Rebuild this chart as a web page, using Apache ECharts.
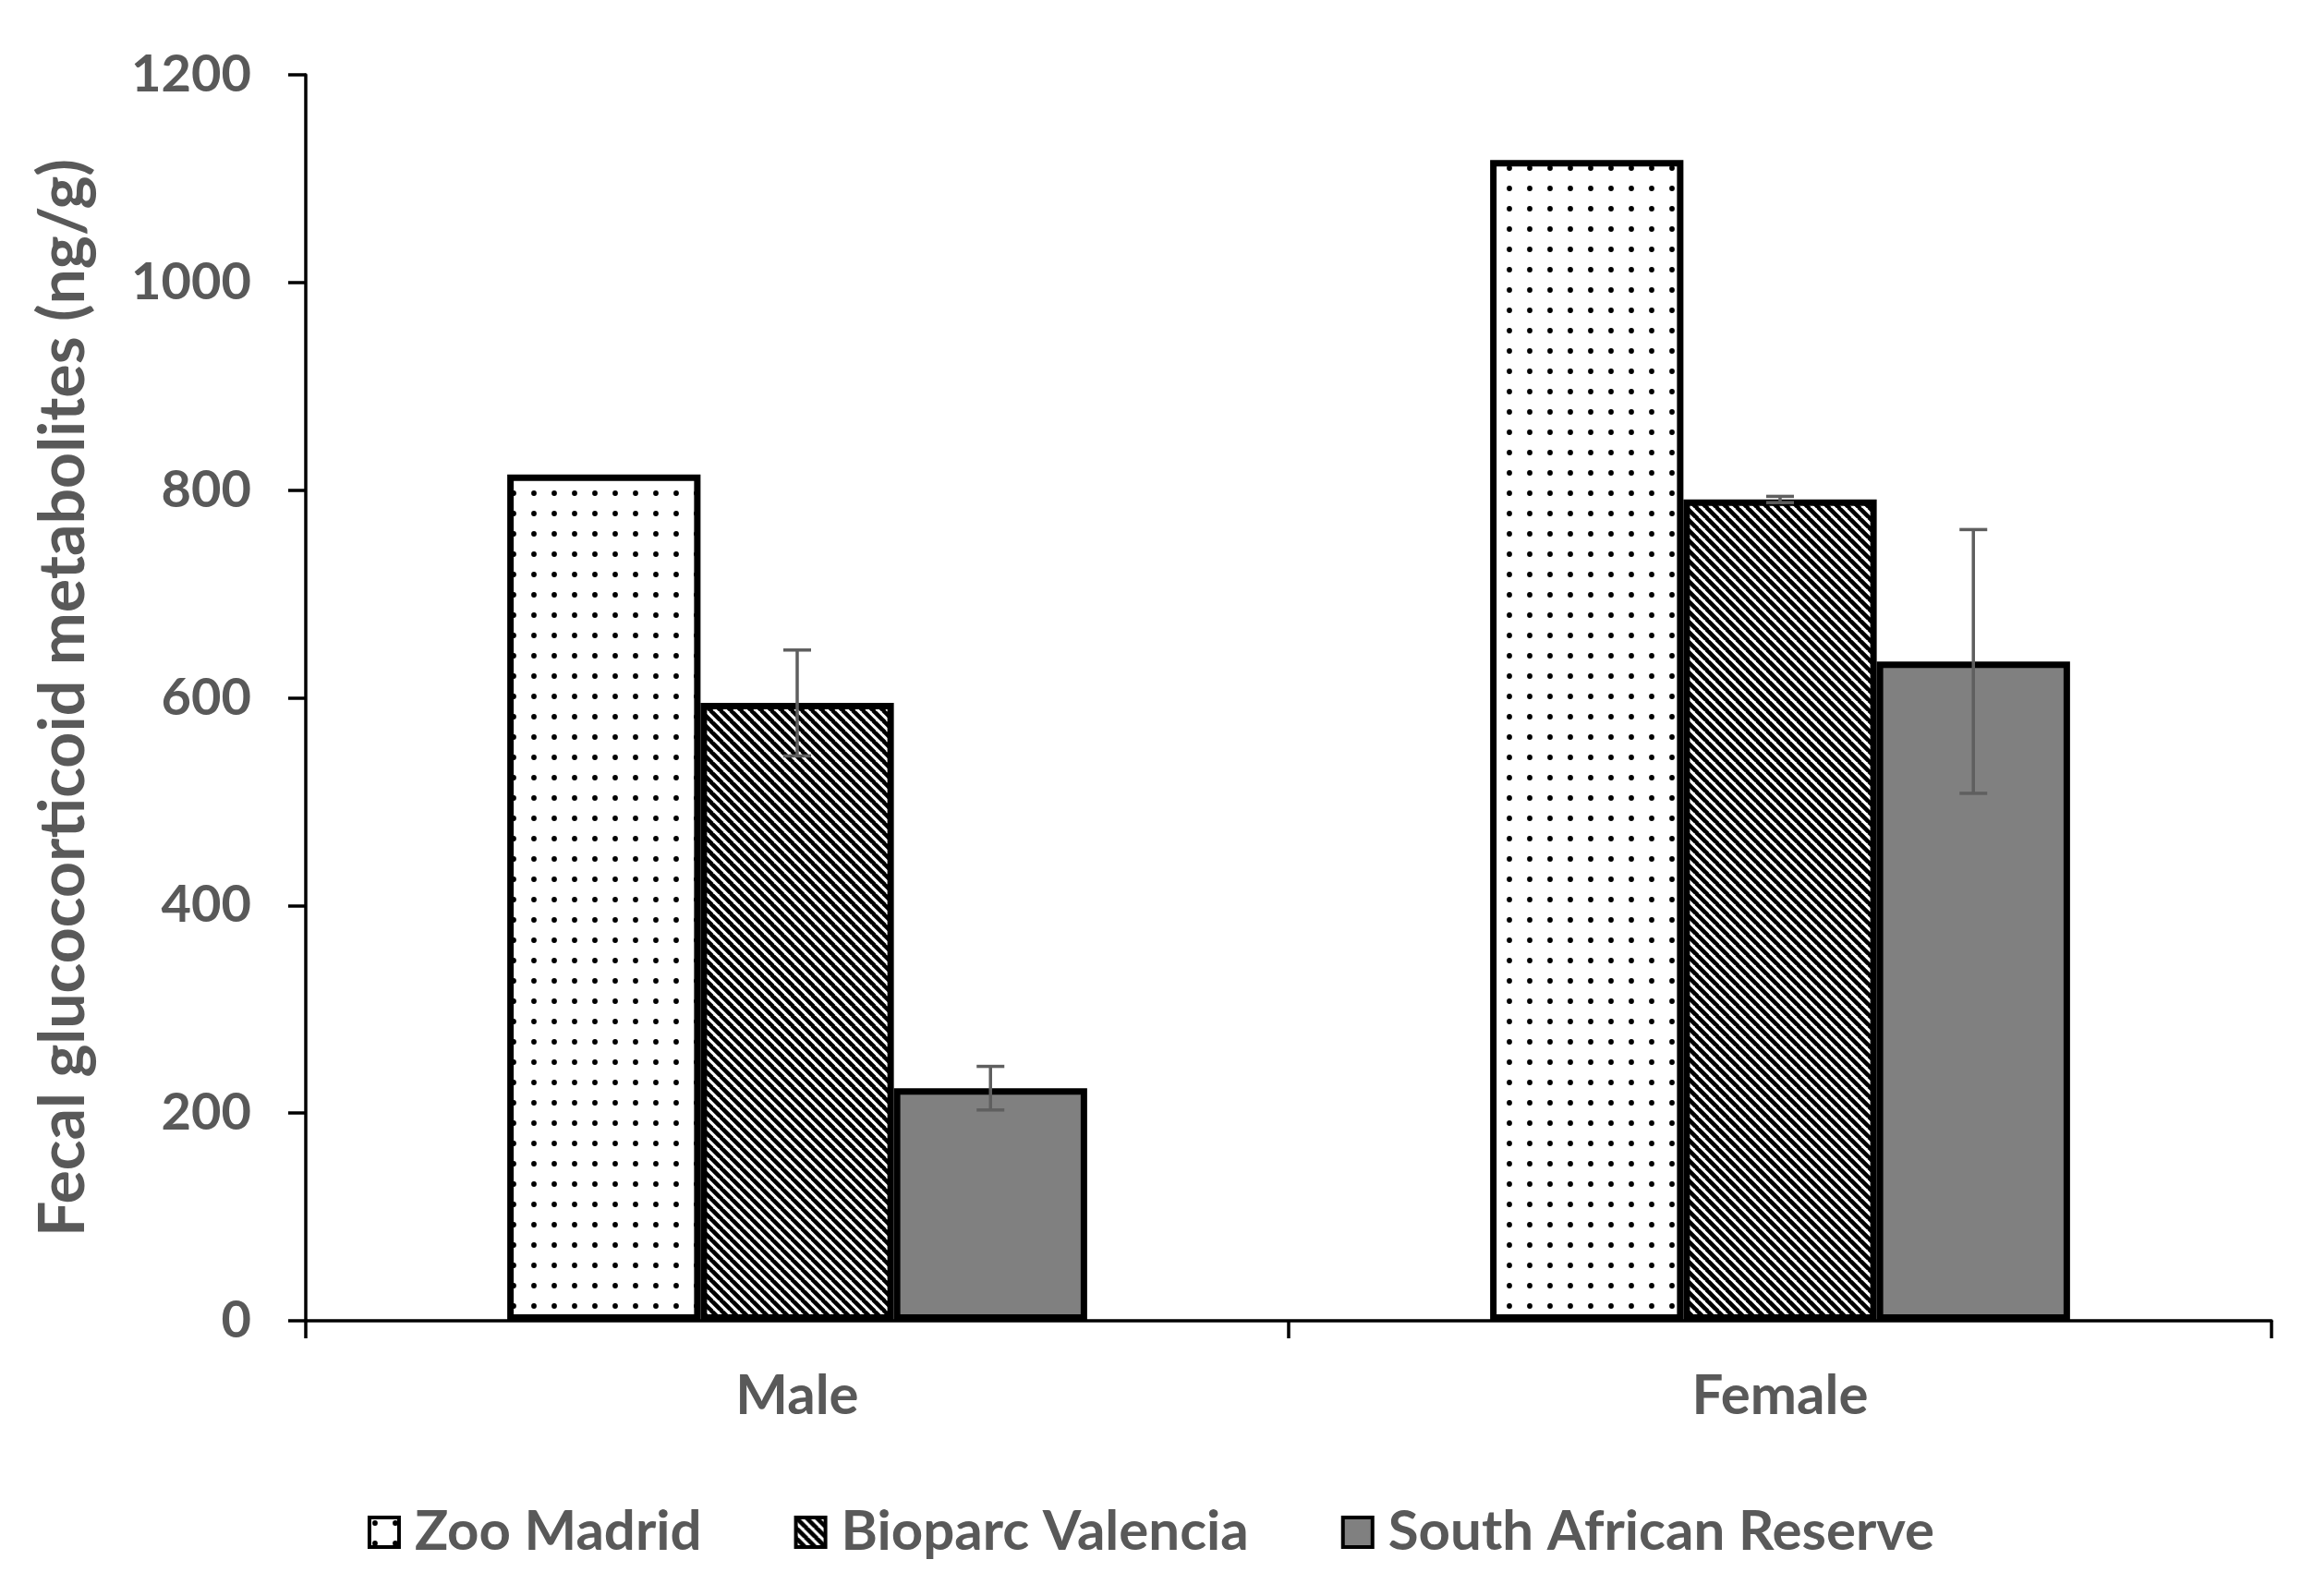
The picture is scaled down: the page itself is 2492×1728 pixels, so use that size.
<!DOCTYPE html>
<html>
<head>
<meta charset="utf-8">
<script src="https://cdn.jsdelivr.net/npm/echarts@6/dist/echarts.min.js"></script>
<style>
html,body{margin:0;padding:0;background:#fff;}
#chart{width:2492px;height:1728px;}
</style>
</head>
<body>
<div id="chart"></div>
<script>
const categories = ['Male', 'Female'];
const seriesNames = ['Zoo Madrid', 'Bioparc Valencia', 'South African Reserve'];
const zooMadrid = [815, 1118];
const bioparcValencia = [595, 791];
const southAfrican = [224, 635];
const bioparcErr = [51, 3];
const southAfricanErr = [21, 127];
const yTicks = [0, 200, 400, 600, 800, 1000, 1200];

const FONT = 'Lato';
const TXT = '#595959';
const CAT_GAP = 0.41;

function dotPattern() {
  const c = document.createElement('canvas');
  const s = 22;
  c.width = s; c.height = s;
  const g = c.getContext('2d');
  g.fillStyle = '#fff'; g.fillRect(0, 0, s, s);
  g.fillStyle = '#000';
  g.beginPath(); g.arc(6, 6, 2.9, 0, Math.PI * 2); g.fill();
  return c;
}
function stripePattern() {
  const c = document.createElement('canvas');
  const s = 11;
  c.width = s; c.height = s;
  const g = c.getContext('2d');
  g.fillStyle = '#fff'; g.fillRect(0, 0, s, s);
  g.strokeStyle = '#000'; g.lineWidth = 4.6;
  g.beginPath();
  for (let k = -1; k <= 1; k++) {
    g.moveTo(k * s - 1, -1); g.lineTo(k * s + s + 1, s + 1);
  }
  g.stroke();
  return c;
}

const fills = [
  { image: dotPattern(), repeat: 'repeat' },
  { image: stripePattern(), repeat: 'repeat' },
  '#808080'
];
const values = [zooMadrid, bioparcValencia, southAfrican];
const errs = [null, bioparcErr, southAfricanErr];

const errData = [];
errs.forEach((e, si) => {
  if (!e) return;
  e.forEach((v, ci) => {
    errData.push([ci, si, values[si][ci] - v, values[si][ci] + v]);
  });
});

const chart = echarts.init(document.getElementById('chart'));
const barSeries = seriesNames.map((n, i) => ({
  name: n,
  type: 'bar',
  data: values[i],
  barGap: '0%',
  barCategoryGap: (CAT_GAP * 100) + '%',
  itemStyle: { color: fills[i], borderColor: '#000', borderWidth: 7 },
  emphasis: { disabled: true },
  z: 2
}));

const errSeries = {
  type: 'custom',
  data: errData,
  z: 5,
  silent: true,
  renderItem: function (params, api) {
    const ci = api.value(0), si = api.value(1);
    const lo = api.coord([ci, api.value(2)]);
    const hi = api.coord([ci, api.value(3)]);
    const band = api.size([1, 0])[0];
    const group = band * (1 - CAT_GAP);
    const bw = group / 3;
    const x = lo[0] - group / 2 + bw * (si + 0.5);
    const cap = 15;
    const st = { stroke: '#5f5f5f', lineWidth: 3.5 };
    return {
      type: 'group',
      children: [
        { type: 'line', shape: { x1: x, y1: lo[1], x2: x, y2: hi[1] }, style: st },
        { type: 'line', shape: { x1: x - cap, y1: lo[1], x2: x + cap, y2: lo[1] }, style: st },
        { type: 'line', shape: { x1: x - cap, y1: hi[1], x2: x + cap, y2: hi[1] }, style: st }
      ]
    };
  }
};

chart.setOption({
  animation: false,
  backgroundColor: '#fff',
  grid: { left: 331, right: 33, top: 81, bottom: 298 },
  legend: {
    data: seriesNames,
    bottom: 34,
    left: 'center',
    itemWidth: 32,
    itemHeight: 32,
    itemGap: 100,
    icon: 'rect',
    itemStyle: { borderColor: '#000', borderWidth: 4 },
    textStyle: { fontFamily: FONT, fontWeight: 'bold', fontSize: 60, color: TXT, padding: [0, 0, 0, 12] }
  },
  xAxis: {
    type: 'category',
    data: categories,
    axisLine: { lineStyle: { color: '#000', width: 3.5 } },
    axisTick: { show: true, length: 19, lineStyle: { color: '#000', width: 3.5 } },
    axisLabel: { fontFamily: FONT, fontWeight: 'bold', fontSize: 60, color: TXT, margin: 52 }
  },
  yAxis: {
    type: 'value',
    min: yTicks[0],
    max: yTicks[yTicks.length - 1],
    interval: yTicks[1] - yTicks[0],
    name: 'Fecal glucocorticoid metabolites (ng/g)',
    nameLocation: 'middle',
    nameRotate: 90,
    nameGap: 228,
    nameTextStyle: { fontFamily: FONT, fontWeight: 'bold', fontSize: 68, color: TXT },
    splitLine: { show: false },
    axisLine: { show: true, lineStyle: { color: '#000', width: 3.5 } },
    axisTick: { show: true, length: 19, lineStyle: { color: '#000', width: 3.5 } },
    axisLabel: { fontFamily: FONT, fontWeight: 'bold', fontSize: 56, color: TXT, margin: 59, formatter: v => String(v) }
  },
  series: [...barSeries, errSeries]
});
</script>
</body>
</html>
